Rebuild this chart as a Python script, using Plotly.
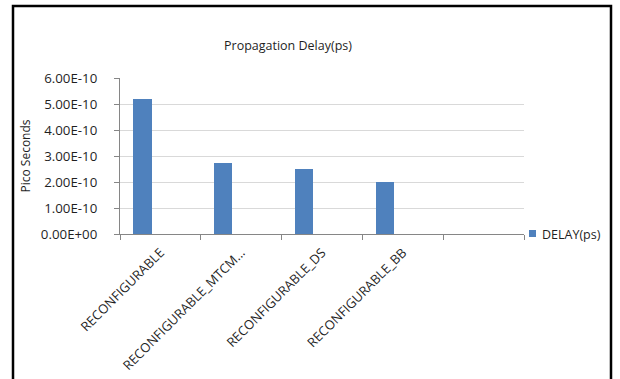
import plotly.graph_objects as go

# Data
categories = ["RECONFIGURABLE", "RECONFIGURABLE_MTCM...", "RECONFIGURABLE_DS", "RECONFIGURABLE_BB", " "]
delay_ps = [5.2e-10, 2.75e-10, 2.5e-10, 2.0e-10, None]
series_name = "DELAY(ps)"
y_tick_values = [0, 1e-10, 2e-10, 3e-10, 4e-10, 5e-10, 6e-10]
y_tick_labels = ["0.00E+00", "1.00E-10", "2.00E-10", "3.00E-10", "4.00E-10", "5.00E-10", "6.00E-10"]

BAR_COLOR = "#4F81BD"
FONT = "Open Sans"
TEXT = "#1f1f1f"

fig = go.Figure()
fig.add_trace(go.Bar(
    x=categories,
    y=delay_ps,
    marker=dict(color=BAR_COLOR, line=dict(width=0)),
    width=0.223,
    offset=-0.333,
    showlegend=False,
    name=series_name,
))

# plot area in pixels
L, R, T, B = 120, 524, 78, 234
W, H = 620, 379
pw, ph = R - L, B - T


def px_x(x):
    return (x - L) / pw


def px_y(y):
    return (B - y) / ph


fig.update_layout(
    width=W, height=H,
    margin=dict(l=L, r=W - R, t=T, b=H - B, pad=0, autoexpand=False),
    paper_bgcolor="white", plot_bgcolor="white",
    font=dict(family=FONT, size=12, color=TEXT),
    bargap=0,
    showlegend=False,
    title=dict(text="Propagation Delay(ps)", x=288 / W, xanchor="center",
               y=1 - 46 / H, yanchor="middle",
               font=dict(family=FONT, size=12.5, color=TEXT)),
    xaxis=dict(
        type="category",
        range=[-0.5, 4.5],
        automargin=False,
        tickangle=-45,
        tickson="boundaries",
        ticks="outside", ticklen=5, tickcolor="#868686",
        showline=True, linecolor="#868686", linewidth=1,
        showgrid=False,
        tickfont=dict(family=FONT, size=13, color=TEXT),
        ticklabelstandoff=5,
    ),
    yaxis=dict(
        range=[0, 6e-10],
        automargin=False,
        tickvals=y_tick_values,
        ticktext=y_tick_labels,
        ticks="outside", ticklen=5, tickcolor="#868686",
        showline=True, linecolor="#868686", linewidth=1,
        showgrid=True, gridcolor="#d9d9d9", gridwidth=1,
        zeroline=False,
        ticklabelstandoff=14,
        tickfont=dict(family=FONT, size=13.3, color=TEXT),
        title=dict(text="Pico Seconds", font=dict(family=FONT, size=12, color=TEXT), standoff=7),
    ),
    shapes=[
        dict(type="rect", xref="paper", yref="paper",
             x0=px_x(13), x1=px_x(611), y0=px_y(390), y1=px_y(6),
             line=dict(color="black", width=2.5), fillcolor="rgba(0,0,0,0)",
             layer="above"),
        # legend key
        dict(type="rect", xref="paper", yref="paper",
             x0=px_x(529), x1=px_x(536), y0=px_y(237), y1=px_y(230),
             line=dict(width=0), fillcolor=BAR_COLOR),
    ],
    annotations=[
        dict(text=series_name, xref="paper", yref="paper",
             x=px_x(540), y=px_y(234), xanchor="left", yanchor="middle",
             showarrow=False, font=dict(family=FONT, size=12.5, color=TEXT)),
    ],
)

fig.write_html("out.html")
